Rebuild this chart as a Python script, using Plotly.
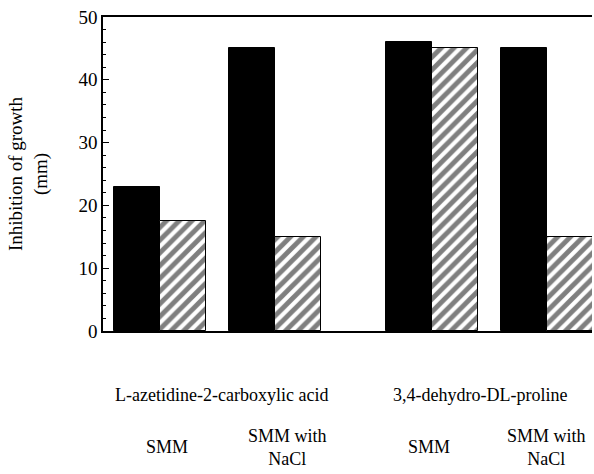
import plotly.graph_objects as go

# Inhibition zones (mm) for the two proline analogues on two media
compounds = ["L-azetidine-2-carboxylic acid", "3,4-dehydro-DL-proline"]
media = ["SMM", "SMM with<br>NaCl"]
solid_values = [23, 45, 46, 45]
hatched_values = [17.5, 15, 45, 15]
y_ticks = [0, 10, 20, 30, 40, 50]

# layout of the bar pairs along a numeric x axis (unit = one bar width)
first_center = 1.24
pair_step = 2.5
group_step = 3.41
x_max = 10.63
compound_label_shift = [0.08, -0.2]
medium_label_shift = [0.15, 0.26, -0.07, 0.0]

centers = []
for g in range(len(compounds)):
    for m in range(len(media)):
        centers.append(first_center + pair_step * m + (pair_step + group_step) * g)

font_family = "Liberation Serif, Times New Roman, serif"
label_font = dict(size=18, color="black", family=font_family)

fig = go.Figure()
fig.add_trace(go.Bar(
    x=[c - 0.5 for c in centers], y=solid_values, width=1,
    marker=dict(color="black", line=dict(color="black", width=1)),
    name="solid", showlegend=False,
))
fig.add_trace(go.Bar(
    x=[c + 0.5 for c in centers], y=hatched_values, width=1,
    marker=dict(
        color="white",
        line=dict(color="black", width=1),
        pattern=dict(shape="/", fgcolor="black", bgcolor="white", size=9, solidity=0.55),
    ),
    name="hatched", showlegend=False,
))

# compound names under each group
for g, name in enumerate(compounds):
    mid = (centers[2 * g] + centers[2 * g + 1]) / 2 + compound_label_shift[g]
    fig.add_annotation(x=mid, y=-0.205, xref="x", yref="paper", text=name,
                       showarrow=False, font=label_font, yanchor="middle")

# medium labels under each pair
for i, c in enumerate(centers):
    fig.add_annotation(x=c + medium_label_shift[i], y=-0.37, xref="x", yref="paper",
                       text=media[i % 2], showarrow=False, font=label_font,
                       yanchor="middle", align="center")

fig.update_layout(
    width=594, height=474,
    margin=dict(l=103, r=2, t=17, b=143),
    paper_bgcolor="white", plot_bgcolor="white",
    barmode="overlay", bargap=0,
    font=dict(family=font_family, size=18, color="black"),
    xaxis=dict(range=[0, x_max], showticklabels=False, ticks="", showgrid=False,
               zeroline=False, showline=True, linecolor="black", linewidth=1.5,
               mirror=True),
    yaxis=dict(range=[0, 50], tickvals=y_ticks, ticks="inside", ticklen=6,
               tickcolor="black", tickwidth=1, showgrid=False, zeroline=False,
               showline=True, linecolor="black", linewidth=1.5,
               tickfont=dict(size=19, family=font_family, color="black"),
               minor=dict(dtick=2, ticks="inside", ticklen=3, tickcolor="black", showgrid=False),
               title=dict(text="Inhibition of growth<br>(mm)", standoff=26,
                          font=dict(size=19, family=font_family, color="black"))),
)

fig.write_html("out.html")
